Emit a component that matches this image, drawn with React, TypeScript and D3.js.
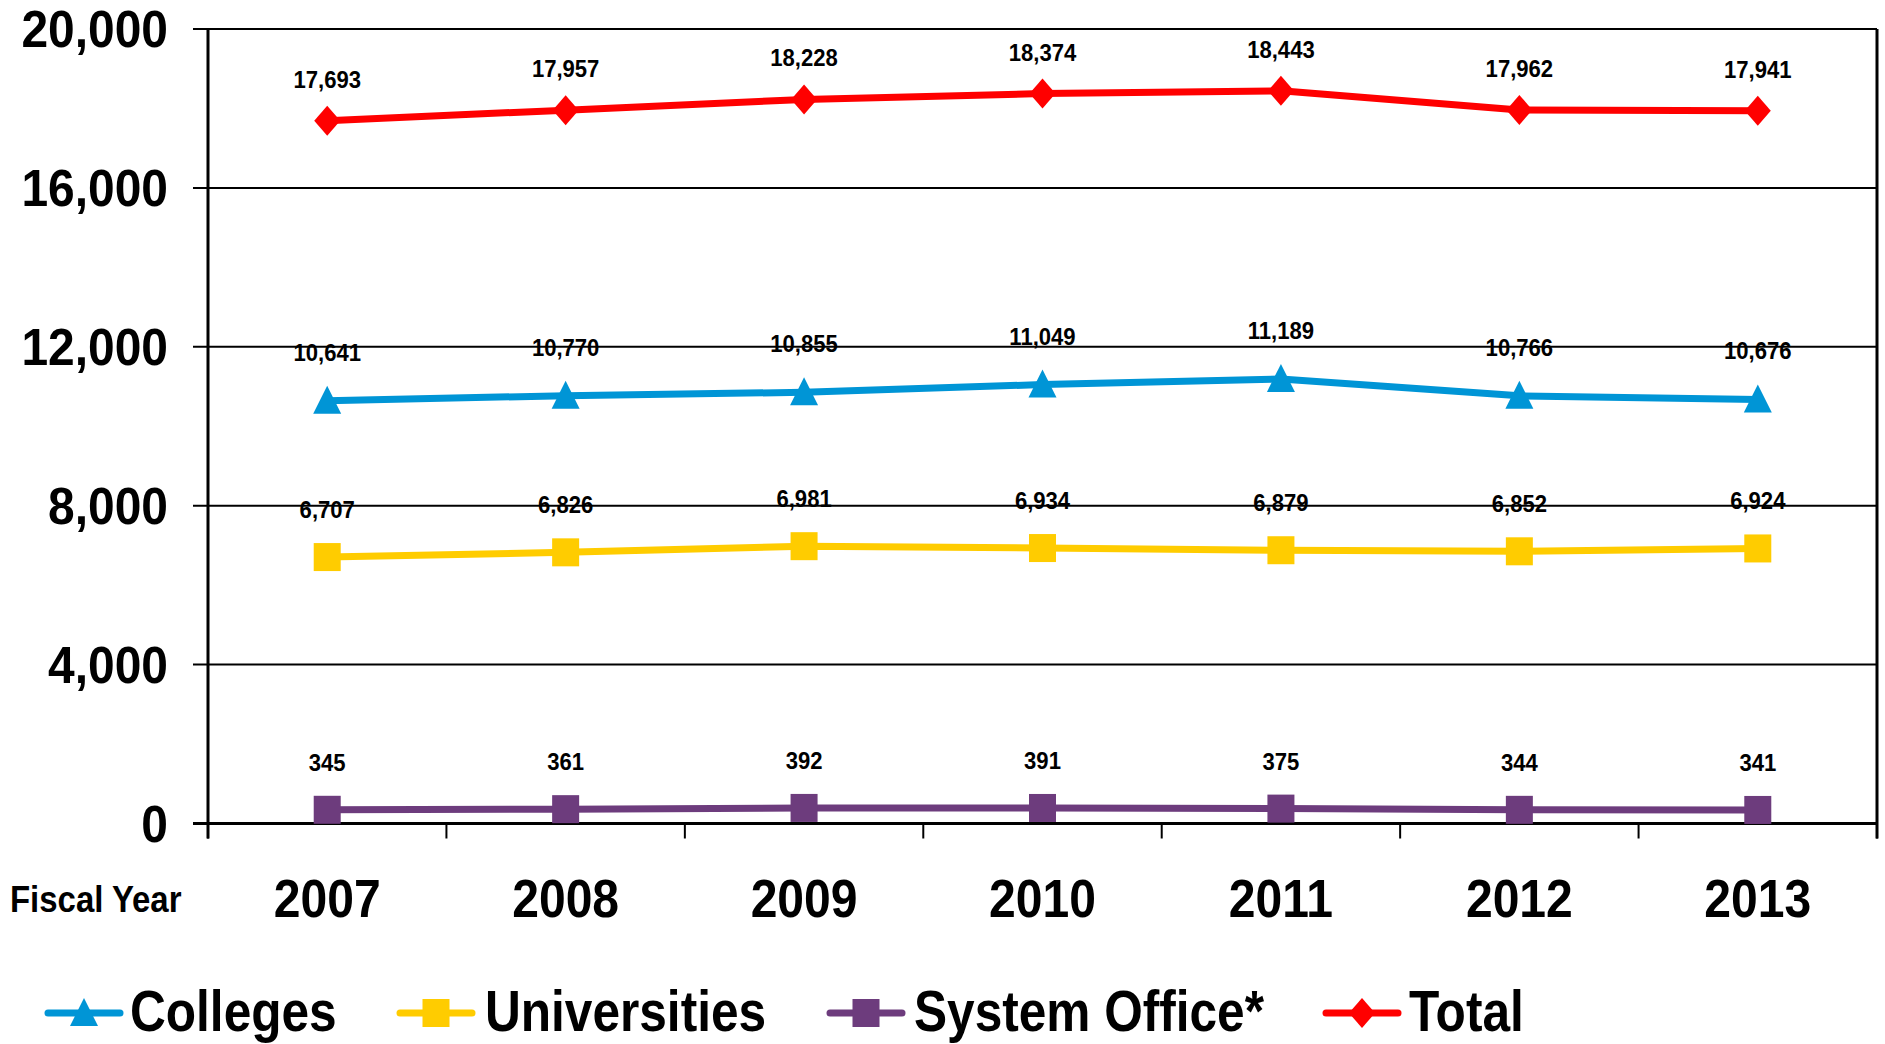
import React from 'react';
import * as d3 from 'd3';

const years = ['2007', '2008', '2009', '2010', '2011', '2012', '2013'];
const colleges = [10641, 10770, 10855, 11049, 11189, 10766, 10676];
const universities = [6707, 6826, 6981, 6934, 6879, 6852, 6924];
const systemOffice = [345, 361, 392, 391, 375, 344, 341];
const total = [17693, 17957, 18228, 18374, 18443, 17962, 17941];
const yTicks = [0, 4000, 8000, 12000, 16000, 20000];

const W = 1885, H = 1044;
const L = 208, R = 1877, T = 29, B = 823.5;
const FONT = '"Liberation Sans", Arial, Helvetica, sans-serif';

type Series = { name: string; values: number[]; color: string; marker: 'triangle' | 'square' | 'diamond'; labelOffset: number };
const series: Series[] = [
  { name: 'Colleges', values: colleges, color: '#0095D6', marker: 'triangle', labelOffset: 40 },
  { name: 'Universities', values: universities, color: '#FFCC00', marker: 'square', labelOffset: 39 },
  { name: 'System Office*', values: systemOffice, color: '#6D3C7D', marker: 'square', labelOffset: 39 },
  { name: 'Total', values: total, color: '#FF0000', marker: 'diamond', labelOffset: 33 },
];

function Marker({ type, x, y, color }: { type: string; x: number; y: number; color: string }) {
  if (type === 'triangle') {
    return <path d={`M${x},${y - 15} L${x + 14},${y + 13} L${x - 14},${y + 13} Z`} fill={color} />;
  }
  if (type === 'square') {
    return <rect x={x - 13.5} y={y - 14} width={27} height={28} fill={color} />;
  }
  return <path d={`M${x},${y - 15} L${x + 13},${y} L${x},${y + 15} L${x - 13},${y} Z`} fill={color} />;
}

function SText({ x, y, sx, size, anchor, children, weight = 'bold' }: any) {
  return (
    <text
      transform={`translate(${x},${y}) scale(${sx},1)`}
      fontSize={size}
      fontWeight={weight}
      fontFamily={FONT}
      textAnchor={anchor}
      fill="#000"
    >
      {children}
    </text>
  );
}

export default function App() {
  const x = d3.scalePoint<string>().domain(years).range([L, R]).padding(0.5);
  const band = d3.scaleBand<string>().domain(years).range([L, R]);
  const y = d3.scaleLinear().domain([0, 20000]).range([B, T]);
  const fmt = d3.format(',');
  const line = d3.line<number>().x((_, i) => x(years[i])!).y((d) => y(d));

  const boundaries = [...years.map((yr) => band(yr)!), R];

  const legendItems = [
    { s: series[0], lx: 48, tx: 130 },
    { s: series[1], lx: 400, tx: 485 },
    { s: series[2], lx: 830, tx: 914 },
    { s: series[3], lx: 1326, tx: 1409 },
  ];

  return (
    <svg width={W} height={H} style={{ position: 'absolute', left: 0, top: 0, background: '#fff' }}>
      <rect x={0} y={0} width={W} height={H} fill="#fff" />
      {yTicks.map((t) => (
        <line key={t} x1={L - 15} x2={R} y1={y(t)} y2={y(t)} stroke="#000" strokeWidth={2} />
      ))}
      <line x1={L} x2={L} y1={T} y2={B + 15} stroke="#000" strokeWidth={3} />
      <line x1={R} x2={R} y1={T} y2={B + 15} stroke="#000" strokeWidth={3} />
      <line x1={L - 15} x2={R} y1={B} y2={B} stroke="#000" strokeWidth={3} />
      {boundaries.map((bx, i) => (
        <line key={i} x1={bx} x2={bx} y1={B} y2={B + 15} stroke="#000" strokeWidth={2} />
      ))}
      {yTicks.map((t) => (
        <SText key={t} x={168} y={y(t) + 18} sx={0.94} size={51} anchor="end">
          {fmt(t)}
        </SText>
      ))}
      {years.map((yr) => (
        <SText key={yr} x={x(yr)!} y={917} sx={0.89} size={54} anchor="middle">
          {yr}
        </SText>
      ))}
      <SText x={10} y={912} sx={0.89} size={37} anchor="start">
        Fiscal Year
      </SText>
      {series.map((s) => (
        <g key={s.name}>
          <path d={line(s.values)!} fill="none" stroke={s.color} strokeWidth={7} strokeLinejoin="round" />
          {s.values.map((v, i) => (
            <Marker key={i} type={s.marker} x={x(years[i])!} y={y(v)} color={s.color} />
          ))}
          {s.values.map((v, i) => (
            <SText key={'l' + i} x={x(years[i])!} y={y(v) - s.labelOffset} sx={0.96} size={23} anchor="middle">
              {fmt(v)}
            </SText>
          ))}
        </g>
      ))}
      {legendItems.map(({ s, lx, tx }) => (
        <g key={s.name}>
          <line x1={lx} x2={lx + 72} y1={1013} y2={1013} stroke={s.color} strokeWidth={7} strokeLinecap="round" />
          <Marker type={s.marker} x={lx + 36} y={1013} color={s.color} />
          <SText x={tx} y={1031} sx={0.87} size={57} anchor="start">
            {s.name}
          </SText>
        </g>
      ))}
    </svg>
  );
}
